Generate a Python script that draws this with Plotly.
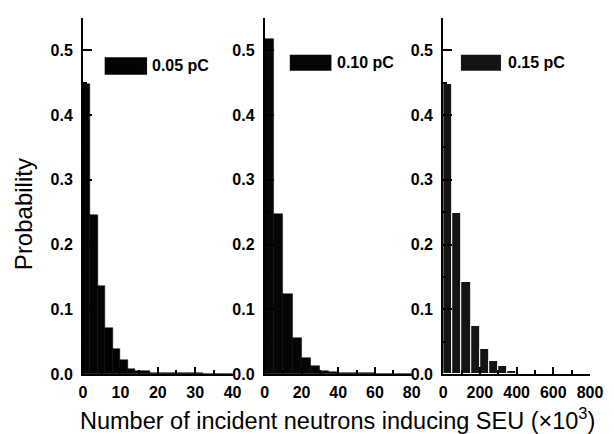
import plotly.graph_objects as go

# ---- data ----
p1_x = [1, 3, 5, 7, 9, 11, 13, 15, 17, 19, 21, 23, 25, 27, 29, 31, 33, 35, 37, 39]
p1_y = [0.448, 0.246, 0.136, 0.071, 0.039, 0.022, 0.007, 0.004, 0.004, 0.002,
        0.001, 0.001, 0.001, 0.001, 0.001, 0.001, 0.0005, 0.0005, 0.0005, 0.0005]

p2_x = [2.5, 7.5, 12.5, 17.5, 22.5, 27.5, 32.5, 37.5, 42.5, 47.5, 52.5, 57.5, 62.5, 67.5, 72.5, 77.5]
p2_y = [0.518, 0.247, 0.124, 0.056, 0.025, 0.012, 0.005, 0.003, 0.002, 0.001,
        0.001, 0.001, 0.0005, 0.0005, 0.0005, 0.0005]

p3_x = [25, 75, 125, 175, 225, 275, 325, 375, 425, 475, 525, 575, 625, 675, 725, 775]
p3_y = [0.448, 0.249, 0.142, 0.074, 0.039, 0.020, 0.012, 0.004, 0.002, 0.001,
        0.001, 0.0005, 0.0005, 0.0005, 0.0005, 0.0005]

labels = ["0.05 pC", "0.10 pC", "0.15 pC"]
x_ranges = [[0, 40], [0, 80], [0, 800]]
x_ticks = [[0, 10, 20, 30, 40], [0, 20, 40, 60, 80], [0, 200, 400, 600, 800]]
x_minor = [5, 10, 100]
y_ticks = [0.0, 0.1, 0.2, 0.3, 0.4, 0.5]
bin_widths = [2, 5, 50]
colors = ["#030303", "#060606", "#141414"]

FONT = "Liberation Sans, Arial, Helvetica, sans-serif"

fig = go.Figure()
series = [(p1_x, p1_y), (p2_x, p2_y), (p3_x, p3_y)]
for i, (xs, ys) in enumerate(series):
    suffix = "" if i == 0 else str(i + 1)
    fig.add_trace(go.Bar(
        x=xs, y=ys, width=bin_widths[i],
        marker=dict(color=colors[i],
                    line=dict(color="white" if i == 2 else colors[i], width=1 if i == 2 else 0.5)),
        xaxis="x" + suffix, yaxis="y" + suffix, showlegend=False, name=labels[i],
    ))

domains = [[0.0, 0.295], [0.3586, 0.6483], [0.7105, 1.0]]
axis_common = dict(showline=True, linecolor="black", linewidth=2, showgrid=False,
                   zeroline=False, ticks="inside", tickcolor="black", tickwidth=1.5,
                   tickfont=dict(family=FONT, size=16, color="black", weight="bold"))
layout = dict(
    width=614, height=434,
    margin=dict(l=75, r=32, t=10, b=68),
    paper_bgcolor="white", plot_bgcolor="white",
    bargap=0, font=dict(family=FONT, color="black"),
    showlegend=False,
)
for i in range(3):
    suffix = "" if i == 0 else str(i + 1)
    layout["xaxis" + suffix] = dict(
        axis_common, domain=domains[i], range=x_ranges[i], tickvals=x_ticks[i],
        ticklen=7, anchor="y" + suffix, ticklabelstandoff=3,
        minor=dict(dtick=x_minor[i], ticks="inside", ticklen=4, tickcolor="black", tickwidth=1.5),
    )
    layout["yaxis" + suffix] = dict(
        axis_common, domain=[0, 1], range=[0, 0.55], tickvals=y_ticks, tickformat=".1f",
        ticklen=9, anchor="x" + suffix, ticklabelstandoff=5,
        minor=dict(dtick=0.05, ticks="inside", ticklen=4, tickcolor="black", tickwidth=1.5),
    )
fig.update_layout(**layout)

# legend-like keys
leg_boxes = [(0.0428, 0.1263, 0.8407, 0.8896), (0.4079, 0.49, 0.852, 0.8969), (0.7454, 0.8244, 0.852, 0.8969)]
leg_text = [(0.1348, 0.8652), (0.4999, 0.8736), (0.8354, 0.8736)]
for i in range(3):
    x0, x1, y0, y1 = leg_boxes[i]
    fig.add_shape(type="rect", xref="paper", yref="paper", x0=x0, x1=x1, y0=y0, y1=y1,
                  fillcolor=colors[i], line=dict(width=0))
    fig.add_annotation(xref="paper", yref="paper", x=leg_text[i][0], y=leg_text[i][1],
                       text=labels[i], showarrow=False, xanchor="left", yanchor="middle",
                       font=dict(family=FONT, size=16, color="black", weight="bold"), borderpad=0)

fig.add_annotation(xref="paper", yref="paper", x=-0.1184, y=0.449, text="Probability",
                   textangle=-90, showarrow=False, xanchor="center", yanchor="middle",
                   font=dict(family=FONT, size=24, color="black"))
fig.add_annotation(xref="paper", yref="paper", x=-0.0099, y=-0.126,
                   text="Number of incident neutrons inducing SEU (×10<sup>3</sup>)",
                   showarrow=False, xanchor="left", yanchor="middle",
                   font=dict(family=FONT, size=23.5, color="black"))

fig.write_html("out.html")
